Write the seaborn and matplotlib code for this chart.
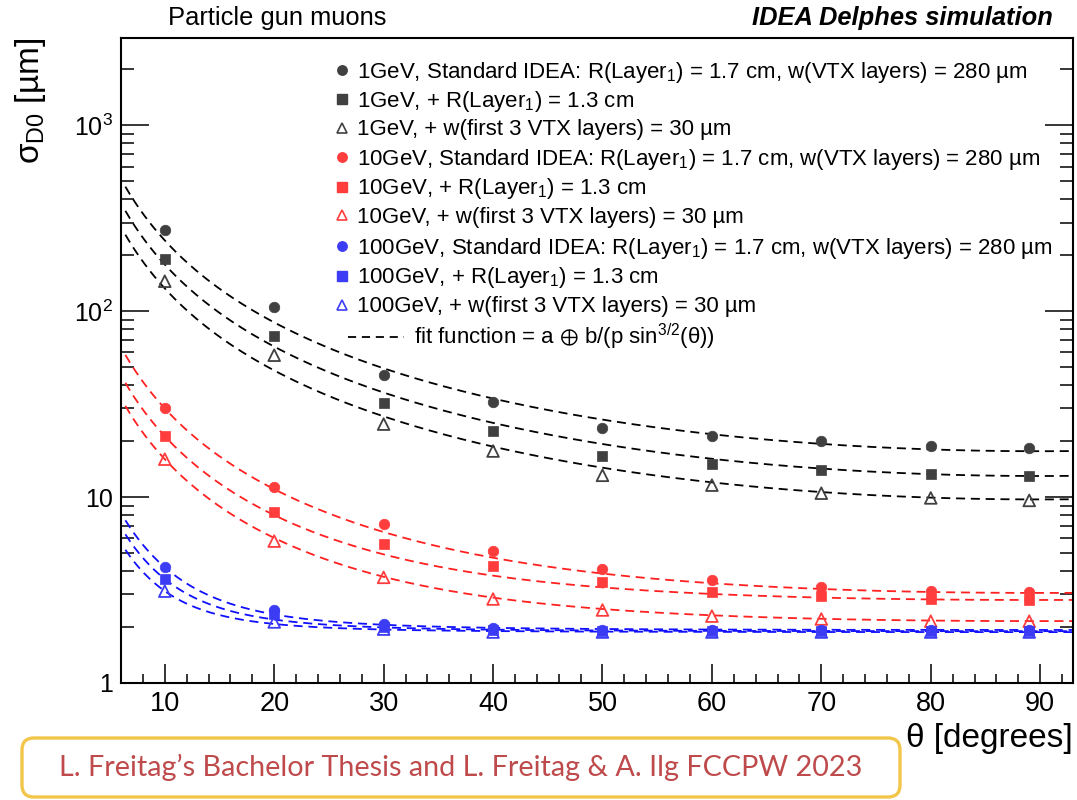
import numpy as np
import pandas as pd
import matplotlib
matplotlib.use("Agg")
import matplotlib.pyplot as plt
import seaborn as sns
from matplotlib.lines import Line2D
from matplotlib.patches import FancyBboxPatch
from matplotlib.ticker import MultipleLocator, LogLocator, FixedLocator, FixedFormatter, NullFormatter

# ---------------------------------------------------------------- data
theta_deg = [10, 20, 30, 40, 50, 60, 70, 80, 89]

# sigma_D0 in micrometres
sigma_1gev_std = [272, 105, 45.3, 32.4, 23.5, 21.3, 20.0, 18.8, 18.3]
sigma_1gev_r13 = [190, 74, 32.0, 22.6, 16.6, 15.0, 14.0, 13.3, 13.0]
sigma_1gev_w30 = [145, 58, 24.7, 17.7, 13.1, 11.6, 10.5, 9.9, 9.6]

sigma_10gev_std = [30.0, 11.3, 7.2, 5.1, 4.1, 3.58, 3.28, 3.12, 3.08]
sigma_10gev_r13 = [21.3, 8.3, 5.6, 4.25, 3.5, 3.08, 2.94, 2.83, 2.80]
sigma_10gev_w30 = [16.0, 5.8, 3.7, 2.83, 2.47, 2.29, 2.21, 2.15, 2.15]

sigma_100gev_std = [4.2, 2.47, 2.08, 1.98, 1.93, 1.93, 1.93, 1.93, 1.93]
sigma_100gev_r13 = [3.62, 2.35, 2.00, 1.93, 1.90, 1.90, 1.90, 1.90, 1.90]
sigma_100gev_w30 = [3.12, 2.13, 1.95, 1.88, 1.88, 1.88, 1.88, 1.88, 1.88]

# fit parameters of sigma = a (+) b / (p sin^{3/2} theta)
fit_a = [3.0, 1.5, 1.5, 2.15, 2.34, 1.82, 1.91, 1.887, 1.87]      # um
fit_b = [17.4, 12.9, 9.6, 21.65, 15.3, 11.5, 27.0, 22.4, 18.1]   # um GeV
momentum_gev = [1, 1, 1, 10, 10, 10, 100, 100, 100]

series_labels = [
    "1GeV, Standard IDEA: R(Layer$_{1}$) = 1.7 cm, w(VTX layers) = 280 µm",
    "1GeV, + R(Layer$_{1}$) = 1.3 cm",
    "1GeV, + w(first 3 VTX layers) = 30 µm",
    "10GeV, Standard IDEA: R(Layer$_{1}$) = 1.7 cm, w(VTX layers) = 280 µm",
    "10GeV, + R(Layer$_{1}$) = 1.3 cm",
    "10GeV, + w(first 3 VTX layers) = 30 µm",
    "100GeV, Standard IDEA: R(Layer$_{1}$) = 1.7 cm, w(VTX layers) = 280 µm",
    "100GeV, + R(Layer$_{1}$) = 1.3 cm",
    "100GeV, + w(first 3 VTX layers) = 30 µm",
]
fit_label = "fit function = a $\\oplus$ b/(p sin$^{3/2}$(θ))"
y_tick_values = [1, 10, 100, 1000]
y_tick_labels = ["1", "10", "10$^{2}$", "10$^{3}$"]
x_tick_values = [10, 20, 30, 40, 50, 60, 70, 80, 90]

series_values = [
    sigma_1gev_std, sigma_1gev_r13, sigma_1gev_w30,
    sigma_10gev_std, sigma_10gev_r13, sigma_10gev_w30,
    sigma_100gev_std, sigma_100gev_r13, sigma_100gev_w30,
]

# ---------------------------------------------------------------- style
marker_colors = {1: "#404040", 10: "#ff3d3d", 100: "#3c3cf5"}
line_colors = {1: "#000000", 10: "#ff2020", 100: "#1010ff"}
markers = ["o", "s", "^"] * 3
marker_px = {"o": 7.6, "s": 7.4, "^": 8.4}

sns.set_theme(style="ticks")
plt.rcParams["font.family"] = ["Liberation Sans", "DejaVu Sans"]
plt.rcParams["mathtext.fontset"] = "custom"
plt.rcParams["mathtext.rm"] = "Liberation Sans"
plt.rcParams["mathtext.it"] = "Liberation Sans:italic"
plt.rcParams["mathtext.bf"] = "Liberation Sans:bold"
plt.rcParams["mathtext.fallback"] = "stixsans"
plt.rcParams["text.color"] = "black"

W, H = 1077, 800
fig = plt.figure(figsize=(W / 100, H / 100), dpi=100)
fig.patch.set_facecolor("white")


def fx(px):
    return px / W


def fy(py):
    return 1 - py / H


ax_left, ax_right, ax_top, ax_bottom = 121, 1073, 38, 683
ax = fig.add_axes([fx(ax_left), fy(ax_bottom),
                   fx(ax_right - ax_left), (ax_bottom - ax_top) / H])
ax.set_facecolor("white")
ax.set_yscale("log")

x_min, x_max = 6.0, 93.0
theta_grid = np.linspace(6.4, x_max, 400)

dash = (0, (5, 3.2))
for i, vals in enumerate(series_values):
    p = momentum_gev[i]
    fit = np.sqrt(fit_a[i] ** 2 +
                  (fit_b[i] / (p * np.sin(np.radians(theta_grid)) ** 1.5)) ** 2)
    fit_df = pd.DataFrame({"theta": theta_grid, "sigma": fit})
    sns.lineplot(data=fit_df, x="theta", y="sigma", ax=ax,
                 color=line_colors[p], linestyle=dash, linewidth=1.3,
                 zorder=2, estimator=None)

for i, vals in enumerate(series_values):
    p = momentum_gev[i]
    m = markers[i]
    df = pd.DataFrame({"theta": theta_deg, "sigma": vals})
    col = marker_colors[p]
    if m == "^":
        sns.scatterplot(data=df, x="theta", y="sigma", ax=ax, marker=m,
                        s=marker_px[m] ** 2, facecolor="none", edgecolor=col,
                        linewidth=1.3, zorder=3)
    else:
        sns.scatterplot(data=df, x="theta", y="sigma", ax=ax, marker=m,
                        s=marker_px[m] ** 2, color=col, edgecolor=col,
                        linewidth=0.5, zorder=3)

ax.set_xlim(x_min, x_max)
ax.set_ylim(1, 2950)
ax.set_xlabel("")
ax.set_ylabel("")

# axes & ticks
for s in ["left", "bottom", "right", "top"]:
    ax.spines[s].set_linewidth(1.5)
    ax.spines[s].set_color("black")

ax.xaxis.set_major_locator(FixedLocator(x_tick_values))
ax.xaxis.set_minor_locator(MultipleLocator(2))
ax.yaxis.set_major_locator(FixedLocator(y_tick_values))
ax.yaxis.set_major_formatter(FixedFormatter(y_tick_labels))
ax.yaxis.set_minor_locator(LogLocator(base=10, subs=np.arange(2, 10)))
ax.yaxis.set_minor_formatter(NullFormatter())

ax.tick_params(axis="x", which="major", direction="in", length=13.5,
               width=1.1, labelsize=19.5, pad=6, top=False, color="black",
               labelcolor="black")
ax.tick_params(axis="x", which="minor", direction="in", length=6.8,
               width=1.1, top=False, color="black")
ax.tick_params(axis="y", which="major", direction="in", length=20,
               width=1.1, labelsize=18, pad=6, right=True, color="black",
               labelcolor="black")
ax.tick_params(axis="y", which="minor", direction="in", length=9.5,
               width=1.1, right=True, color="black")

# axis titles
fig.text(fx(1073), fy(738), "θ [degrees]", ha="right", va="center",
         fontsize=24, color="black")
fig.text(fx(30), fy(38), "σ$_{\\mathrm{D0}}$ [µm]", ha="center", va="top",
         rotation=90, fontsize=24, color="black")

# headers
fig.text(fx(168), fy(18), "Particle gun muons", ha="left", va="center",
         fontsize=18.4, color="black")
fig.text(fx(1053), fy(18), "IDEA Delphes simulation", ha="right",
         va="center", fontsize=18.4, fontweight="bold", fontstyle="italic",
         color="black")

# legend
leg_rows = [70, 99, 127.5, 157, 186.5, 215.5, 246, 275.5, 304.5]
leg_fs = 16
for i, label in enumerate(series_labels):
    p = momentum_gev[i]
    m = markers[i]
    col = marker_colors[p]
    y = leg_rows[i]
    if m == "^":
        h = Line2D([fx(342)], [fy(y)], transform=fig.transFigure, marker=m,
                   markersize=7.2, markerfacecolor="none",
                   markeredgecolor=col, markeredgewidth=1.2, linestyle="")
    else:
        h = Line2D([fx(342)], [fy(y)], transform=fig.transFigure, marker=m,
                   markersize=6.8, markerfacecolor=col,
                   markeredgecolor=col, linestyle="")
    fig.add_artist(h)
    fig.text(fx(357), fy(y + 7.8), label, ha="left", va="baseline",
             fontsize=leg_fs, color="black")

fit_y = 336.5
fig.add_artist(Line2D([fx(348), fx(404)], [fy(fit_y), fy(fit_y)],
                      transform=fig.transFigure, color="black",
                      linestyle=(0, (4.5, 3.2)), linewidth=1.3))
fig.text(fx(414), fy(fit_y + 7.8), fit_label, ha="left", va="baseline",
         fontsize=leg_fs, color="black")

# reference box at the bottom
box = FancyBboxPatch((22, H - 797), 878, 59,
                     boxstyle="round,pad=0,rounding_size=12",
                     transform=None, facecolor="white", edgecolor="#f2c64a",
                     linewidth=2.4, zorder=5)
fig.add_artist(box)
fig.text(fx(461), fy(767),
         "L. Freitag’s Bachelor Thesis and L. Freitag & A. Ilg FCCPW 2023",
         ha="center", va="center", fontsize=20.7, family="Lato",
         color="#bf4a4c", zorder=6)

fig.savefig("out.png", dpi=100, facecolor="white")
